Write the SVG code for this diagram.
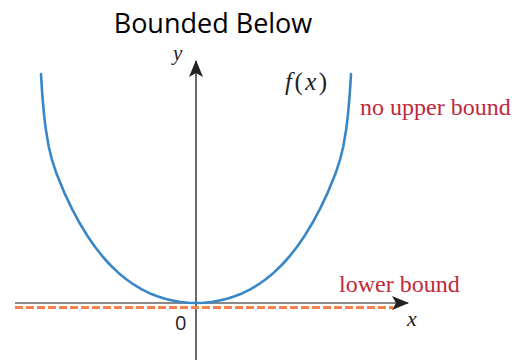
<svg xmlns="http://www.w3.org/2000/svg" width="515" height="360" viewBox="0 0 515 360">
<style>
.title{font-family:"Open Sans","DejaVu Sans",sans-serif;font-size:27px;fill:#000}
.math{font-family:"Liberation Serif","DejaVu Serif",serif;font-style:italic;fill:#222}
.red{font-family:"Liberation Serif","DejaVu Serif",serif;font-size:24px;fill:#c0283c}
.zero{font-family:"Open Sans","DejaVu Sans",sans-serif;font-size:20px;fill:#222}
</style>
<defs>
<marker id="ah" markerWidth="18" markerHeight="14" refX="16" refY="7" orient="auto" markerUnits="userSpaceOnUse">
<path d="M0,0 L17,7 L0,14 L4,7 Z" fill="#222"/>
</marker>
</defs>
<rect width="515" height="360" fill="#fff"/>
<text class="title" x="213" y="33" text-anchor="middle">Bounded Below</text>
<g id="connectors">
<line id="x-axis" x1="15" y1="303" x2="408" y2="303" stroke="#8a8a8a" stroke-width="2.2" marker-end="url(#ah)"/>
<line id="y-axis" x1="196" y1="360" x2="196" y2="61" stroke="#444" stroke-width="1.6" marker-end="url(#ah)"/>
</g>
<g id="lower-bound-line">
<line x1="15" y1="307.5" x2="393" y2="307.5" stroke="#f4844c" stroke-width="3" stroke-dasharray="8,3"/>
</g>
<g id="curve">
<polyline fill="none" stroke="#3a87c8" stroke-width="2.6" stroke-linejoin="round" stroke-linecap="round" points="41,74 41.78,86.8 42.55,97.8 44.1,115.2 45.65,128.3 48.75,146.7 51.85,159.3 56.5,173.6 64.25,192.6 72,208.9 79.75,223.3 87.5,236 95.25,247.2 103,257 110.75,265.5 118.5,272.9 126.25,279.3 134,284.7 141.75,289.4 149.5,293.2 157.25,296.3 165,298.8 172.75,300.6 180.5,302 188.25,302.7 196,303 203.75,302.7 211.5,302 219.25,300.6 227,298.8 234.75,296.3 242.5,293.2 250.25,289.4 258,284.7 265.75,279.3 273.5,272.9 281.25,265.5 289,257 296.75,247.2 304.5,236 312.25,223.3 320,208.9 327.75,192.6 335.5,173.6 340.15,159.3 343.25,146.7 346.35,128.3 347.9,115.2 349.45,97.8 350.22,86.8 351,74"/>
</g>
<g id="labels">
<text class="math" x="173" y="60" font-size="21">y</text>
<text class="math" x="285" y="90" font-size="25" textLength="42"><tspan>f</tspan><tspan font-style="normal">(</tspan><tspan>x</tspan><tspan font-style="normal">)</tspan></text>
<text class="red" x="360" y="115">no upper bound</text>
<text class="red" x="339" y="292">lower bound</text>
<text class="zero" x="175" y="330">0</text>
<text class="math" x="407" y="326" font-size="22">x</text>
</g>
</svg>
